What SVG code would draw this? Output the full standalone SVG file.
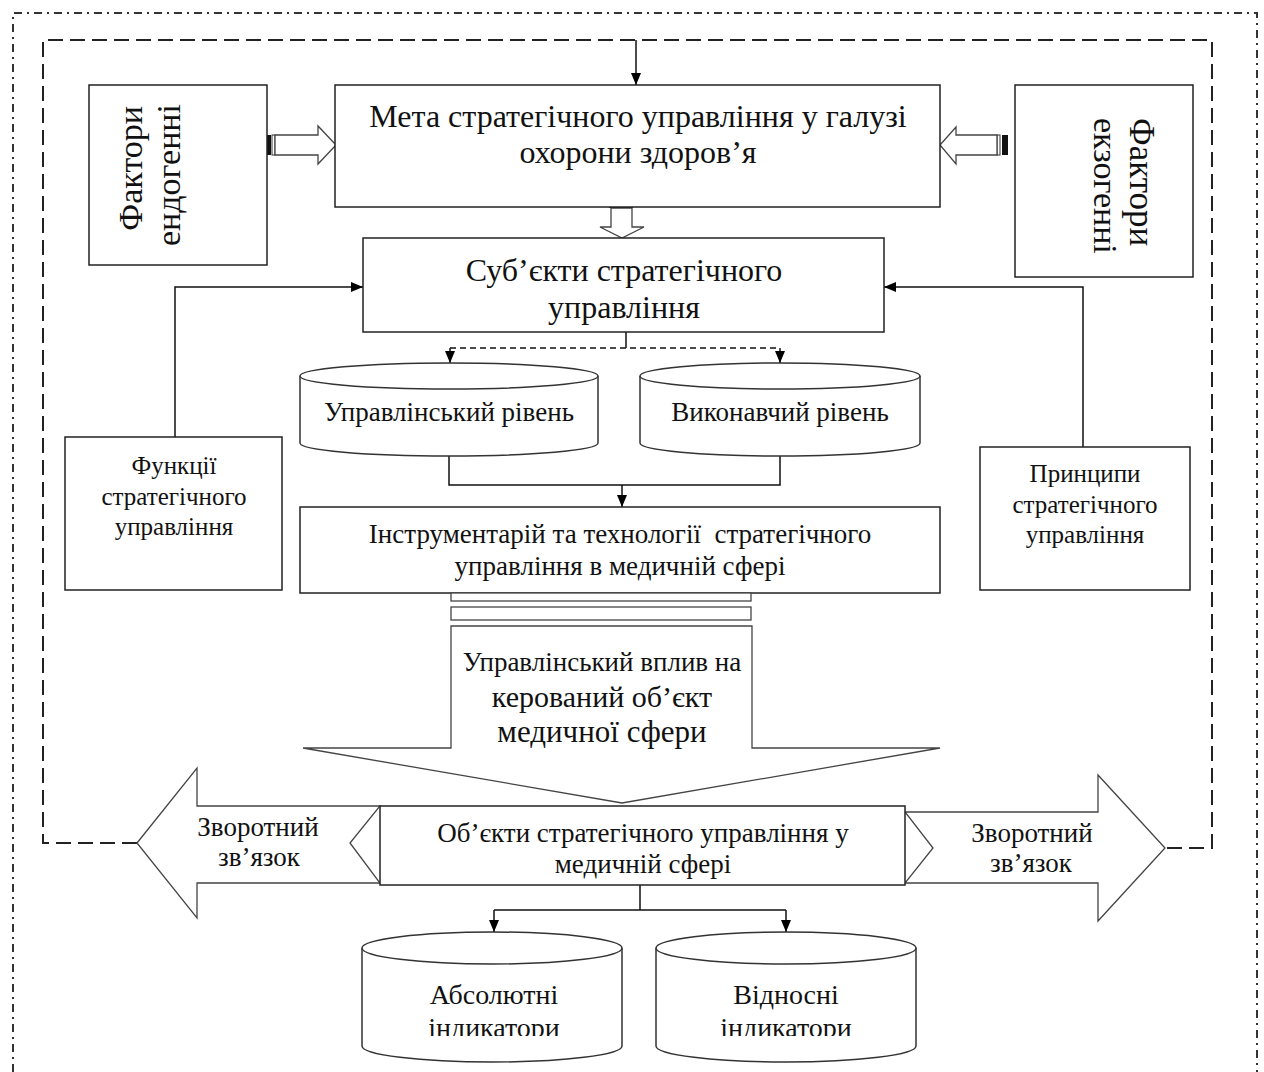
<svg xmlns="http://www.w3.org/2000/svg" width="1264" height="1072" viewBox="0 0 1264 1072">
<style>
text{font-family:"Liberation Serif","Times New Roman",serif;fill:#111;}
.box{fill:#fff;stroke:#222;stroke-width:1.5;}
.cyl{fill:#fff;stroke:#333;stroke-width:1.5;}
.ln{fill:none;stroke:#111;stroke-width:1.5;}
.blk{fill:#fff;stroke:#444;stroke-width:1.3;}
.c{text-anchor:middle;}
</style>
<defs>
<marker id="ah" viewBox="0 0 12 10" refX="12" refY="5" markerWidth="12" markerHeight="10" markerUnits="userSpaceOnUse" orient="auto">
<path d="M0,0 L12,5 L0,10 Z" fill="#000"/>
</marker>
<clipPath id="clipInd"><rect x="340" y="900" width="600" height="136"/></clipPath>
</defs>

<!-- borders -->
<g id="borders">
<path d="M13,1072 L13,13 L1257,13 L1257,1072" fill="none" stroke="#333" stroke-width="2" stroke-dasharray="8,5,2,5"/>
<path d="M137,843 L43,843 L43,40 L1212,40 L1212,848 L1165,848" fill="none" stroke="#222" stroke-width="2" stroke-dasharray="15,7"/>
</g>

<!-- connectors -->
<g id="connectors">
<line class="ln" x1="636" y1="40" x2="636" y2="85" marker-end="url(#ah)"/>
<path class="ln" d="M175,437 L175,287 L363,287" marker-end="url(#ah)"/>
<path class="ln" d="M1083,447 L1083,287 L884,287" marker-end="url(#ah)"/>
<line class="ln" x1="626" y1="332" x2="626" y2="348"/>
<line x1="450" y1="348" x2="780" y2="348" stroke="#111" stroke-width="1.5" stroke-dasharray="6,4"/>
<line class="ln" x1="450" y1="348" x2="450" y2="363" marker-end="url(#ah)"/>
<line class="ln" x1="780" y1="348" x2="780" y2="363" marker-end="url(#ah)"/>
<path class="ln" d="M449,455 L449,485 L780,485 L780,455"/>
<line class="ln" x1="622" y1="485" x2="622" y2="507" marker-end="url(#ah)"/>
<path class="ln" d="M640,885 L640,910"/>
<path class="ln" d="M494,910 L786,910"/>
<line class="ln" x1="494" y1="910" x2="494" y2="932" marker-end="url(#ah)"/>
<line class="ln" x1="786" y1="910" x2="786" y2="932" marker-end="url(#ah)"/>
<!-- block arrows top -->
<rect x="266" y="135" width="5" height="20" fill="#111"/>
<rect x="272" y="135" width="3" height="20" fill="#fff" stroke="#333" stroke-width="1"/>
<path class="blk" d="M275,135 L318,135 L318,126 L336,145 L318,164 L318,155 L275,155 Z"/>
<rect x="1002" y="135" width="6" height="20" fill="#111"/>
<rect x="997" y="135" width="3" height="20" fill="#fff" stroke="#333" stroke-width="1"/>
<path class="blk" d="M997,135 L956,135 L956,127 L940,145 L956,164 L956,155 L997,155 Z"/>
<rect x="609" y="202" width="24" height="6" fill="#111"/>
<path class="blk" d="M611,208 L632,208 L632,227 L644,227 L622,238 L600,227 L611,227 Z"/>
</g>

<g id="meta">
<rect class="box" x="335" y="85" width="605" height="122"/>
<text class="c" x="638" y="127" font-size="32">Мета стратегічного управління у галузі</text>
<text class="c" x="638" y="163" font-size="32">охорони здоров’я</text>
</g>

<g id="endo">
<rect class="box" x="89" y="85" width="178" height="180"/>
<text transform="translate(142,106) rotate(-90)" text-anchor="end" font-size="34">Фактори</text>
<text transform="translate(180,104) rotate(-90)" text-anchor="end" font-size="34">ендогенні</text>
</g>

<g id="exo">
<rect class="box" x="1015" y="85" width="178" height="192"/>
<text transform="translate(1130,118) rotate(90)" font-size="35">Фактори</text>
<text transform="translate(1094,118) rotate(90)" font-size="34">екзогенні</text>
</g>

<g id="subjects">
<rect class="box" x="363" y="238" width="521" height="94"/>
<text class="c" x="624" y="281" font-size="32">Суб’єкти стратегічного</text>
<text class="c" x="624" y="318" font-size="32">управління</text>
</g>

<g id="functions">
<rect class="box" x="65" y="437" width="217" height="153"/>
<text class="c" x="174" y="474" font-size="25">Функції</text>
<text class="c" x="174" y="505" font-size="25">стратегічного</text>
<text class="c" x="174" y="535" font-size="25">управління</text>
</g>

<g id="principles">
<rect class="box" x="980" y="447" width="210" height="143"/>
<text class="c" x="1085" y="482" font-size="25">Принципи</text>
<text class="c" x="1085" y="513" font-size="25">стратегічного</text>
<text class="c" x="1085" y="543" font-size="25">управління</text>
</g>

<g id="mgmt-level">
<path class="cyl" d="M300,376 A149,13 0 0 1 598,376 L598,443 A149,13 0 0 1 300,443 Z"/>
<path class="cyl" fill="none" d="M300,376 A149,13 0 0 0 598,376"/>
<text class="c" x="449" y="421" font-size="27">Управлінський рівень</text>
</g>

<g id="exec-level">
<path class="cyl" d="M640,376 A140,13 0 0 1 920,376 L920,443 A140,13 0 0 1 640,443 Z"/>
<path class="cyl" fill="none" d="M640,376 A140,13 0 0 0 920,376"/>
<text class="c" x="780" y="421" font-size="27">Виконавчий рівень</text>
</g>

<g id="tools">
<rect class="box" x="300" y="507" width="640" height="86"/>
<text class="c" x="620" y="543" font-size="27" xml:space="preserve">Інструментарій та технології  стратегічного</text>
<text class="c" x="620" y="575" font-size="27">управління в медичній сфері</text>
</g>

<g id="influence">
<rect class="blk" x="451" y="593" width="300" height="8"/>
<rect class="blk" x="451" y="607" width="300" height="13"/>
<path class="blk" d="M451,626 L752,626 L752,748 L940,748 L622,803 L303,748 L451,748 Z"/>
<text class="c" x="602" y="671" font-size="27">Управлінський вплив на</text>
<text class="c" x="602" y="707" font-size="30">керований об’єкт</text>
<text class="c" x="602" y="742" font-size="31">медичної сфери</text>
</g>

<g id="feedback-left">
<path class="blk" d="M137,843 L197,768 L197,806 L380,806 L350,843 L380,883 L197,883 L197,918 Z"/>
<text class="c" x="258" y="836" font-size="27">Зворотний</text>
<text class="c" x="259" y="866" font-size="27">зв’язок</text>
</g>

<g id="feedback-right">
<path class="blk" d="M905,812 L1098,812 L1098,775 L1165,848 L1098,921 L1098,883 L905,883 L933,848 Z"/>
<text class="c" x="1032" y="842" font-size="27">Зворотний</text>
<text class="c" x="1031" y="872" font-size="27">зв’язок</text>
</g>

<g id="objects">
<rect class="box" x="380" y="806" width="525" height="79"/>
<text class="c" x="643" y="842" font-size="27">Об’єкти стратегічного управління у</text>
<text class="c" x="643" y="873" font-size="27">медичній сфері</text>
</g>

<g id="absolute">
<path class="cyl" d="M362,948 A130,16 0 0 1 622,948 L622,1046 A130,16 0 0 1 362,1046 Z"/>
<path class="cyl" fill="none" d="M362,948 A130,16 0 0 0 622,948"/>
<text class="c" x="494" y="1004" font-size="28">Абсолютні</text>
<text class="c" x="494" y="1037" font-size="28" clip-path="url(#clipInd)">індикатори</text>
</g>

<g id="relative">
<path class="cyl" d="M656,948 A130,16 0 0 1 916,948 L916,1046 A130,16 0 0 1 656,1046 Z"/>
<path class="cyl" fill="none" d="M656,948 A130,16 0 0 0 916,948"/>
<text class="c" x="786" y="1004" font-size="28">Відносні</text>
<text class="c" x="786" y="1037" font-size="28" clip-path="url(#clipInd)">індикатори</text>
</g>
</svg>
